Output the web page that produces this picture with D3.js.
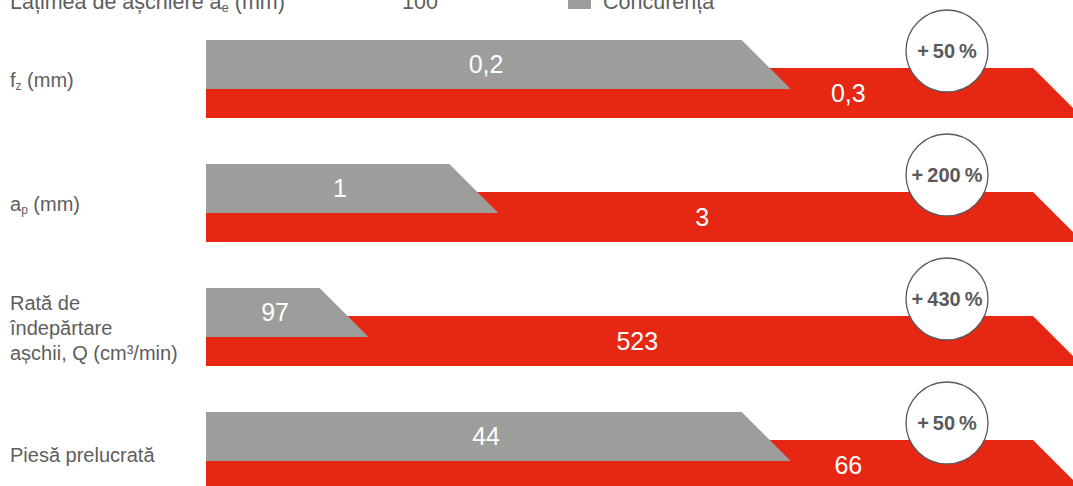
<!DOCTYPE html>
<html>
<head>
<meta charset="utf-8">
<script src="https://cdn.jsdelivr.net/npm/d3@7"></script>
<style>
  html, body { margin: 0; padding: 0; background: #fff; overflow: hidden; }
  svg { display: block; font-family: "Liberation Sans", Arial, Helvetica, sans-serif; }
</style>
</head>
<body>
<div id="viz"></div>
<script>
// Data
const rowKeys = ["fz", "ap", "Q", "piesa"];
const rowLabels = [
  [[{ t: "f" }, { t: "z", sub: true }, { t: " (mm)" }]],
  [[{ t: "a" }, { t: "p", sub: true }, { t: " (mm)" }]],
  [[{ t: "Rată de" }], [{ t: "îndepărtare" }], [{ t: "așchii, Q (cm³/min)" }]],
  [[{ t: "Piesă prelucrată" }]]
];
const competitorValues = [0.2, 1, 97, 44];
const ourValues = [0.3, 3, 523, 66];
const gainLabels = ["+50", "+200", "+430", "+50"];

const headerLabel = [{ t: "Lățimea de așchiere a" }, { t: "e", sub: true }, { t: " (mm)" }];
const headerValue = 100;
const legendLabel = "Concurență";

const COLORS = {
  grey: "#9d9d9b",
  red: "#e52713",
  text: "#5e5e5e",
  ring: "#5a5a5a"
};

const width = 1073, height = 486;
const barH = 49, redOffset = 28, redH = 50;
const x0 = 206, xEnd = 1083;
const circleX = 947, circleR = 41;

const fmt = d3.formatLocale({ decimal: ",", thousands: ".", grouping: [3], currency: ["", ""] }).format("~g");

const svg = d3.select("#viz").append("svg")
  .attr("width", width)
  .attr("height", height);

const y = d3.scaleBand()
  .domain(rowKeys)
  .range([40, 40 + 124 * rowKeys.length])
  .paddingInner(0)
  .paddingOuter(0);

function addSegments(textSel, segs, subSize = 12) {
  segs.forEach(s => {
    const ts = textSel.append("tspan").text(s.t);
    if (s.sub) ts.attr("font-size", subSize).attr("dy", 3);
    else if (textSel.selectAll("tspan").size() > 1) ts.attr("dy", -3);
  });
}

// Header row (partly cut off at the top)
const header = svg.append("g").attr("fill", COLORS.text).attr("font-size", 21.5);
addSegments(header.append("text").attr("x", 10).attr("y", 9), headerLabel, 13);
header.append("text").attr("x", 402).attr("y", 9).text(headerValue);
header.append("rect").attr("x", 568).attr("y", -14).attr("width", 23).attr("height", 23).attr("fill", COLORS.grey);
header.append("text").attr("x", 603).attr("y", 9).text(legendLabel);

// Slanted bar: bottom edge length = value, top edge shorter by the bar height
function slantBar(xs, v, top, h) {
  const xb = xs(v);
  return `M${x0},${top}H${xb - h}L${xb},${top + h}H${x0}Z`;
}

const rows = svg.selectAll("g.row")
  .data(rowKeys.map((k, i) => ({
    key: k, i,
    comp: competitorValues[i],
    ours: ourValues[i],
    x: d3.scaleLinear().domain([0, ourValues[i]]).range([x0, xEnd])
  })))
  .join("g")
  .attr("class", "row");

rows.append("path")
  .attr("fill", COLORS.red)
  .attr("d", d => slantBar(d.x, d.ours, y(d.key) + redOffset, redH));

rows.append("path")
  .attr("fill", COLORS.grey)
  .attr("d", d => slantBar(d.x, d.comp, y(d.key), barH));

// Value labels
rows.append("text")
  .attr("x", d => (x0 + d.x(d.comp) - barH / 2) / 2)
  .attr("y", d => y(d.key) + barH / 2)
  .attr("dy", "0.35em")
  .attr("text-anchor", "middle")
  .attr("fill", "#fff")
  .attr("font-size", 25)
  .text(d => fmt(d.comp));

rows.append("text")
  .attr("x", d => (d.x(d.comp) + circleX - circleR) / 2)
  .attr("y", d => y(d.key) + redOffset + redH / 2)
  .attr("dy", "0.35em")
  .attr("text-anchor", "middle")
  .attr("fill", "#fff")
  .attr("font-size", 25)
  .text(d => fmt(d.ours));

// Category labels
rows.each(function(d) {
  const lines = rowLabels[d.i];
  const lh = 25;
  const cy = y(d.key) + 40 - (lines.length - 1) * lh / 2 + (d.i === 3 ? 3 : 0);
  lines.forEach((segs, j) => {
    const t = d3.select(this).append("text")
      .attr("x", 10)
      .attr("y", cy + j * lh)
      .attr("dy", "0.35em")
      .attr("fill", COLORS.text)
      .attr("font-size", 20);
    addSegments(t, segs);
  });
});

// Gain badges
const badge = rows.append("g")
  .attr("transform", d => `translate(${circleX},${y(d.key) + 11})`);

badge.append("circle")
  .attr("r", circleR)
  .attr("fill", "#fff")
  .attr("stroke", COLORS.ring)
  .attr("stroke-width", 1.3);

badge.append("text")
  .attr("text-anchor", "middle")
  .attr("dy", "0.36em")
  .attr("fill", COLORS.ring)
  .attr("font-size", 20)
  .attr("font-weight", "bold")
  .text(d => `${gainLabels[d.i].replace("+", "+\u2009")}\u2009%`);
</script>
</body>
</html>
